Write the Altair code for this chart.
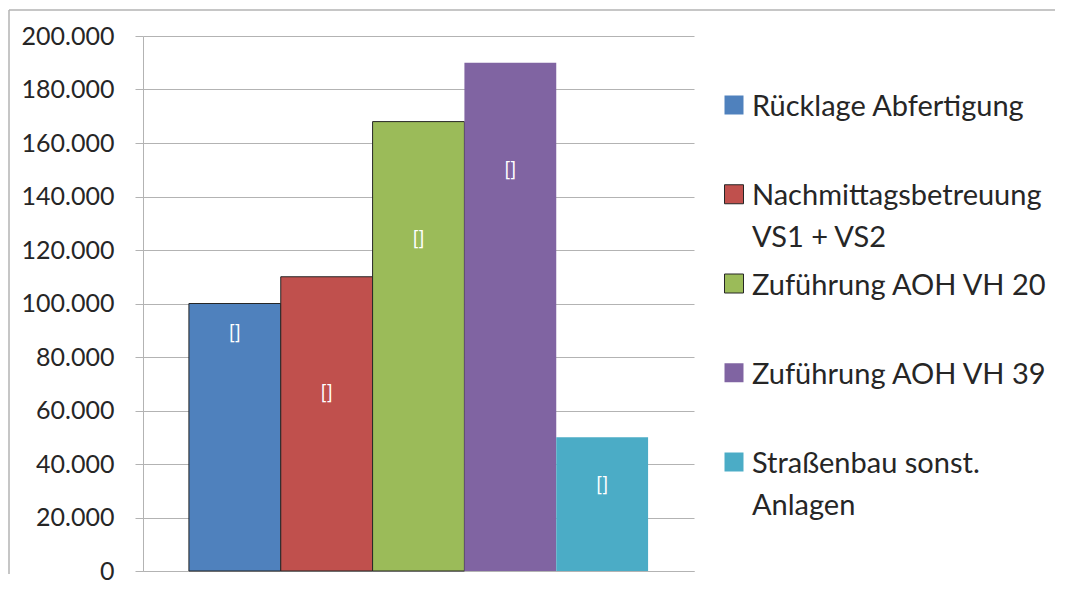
import altair as alt
import pandas as pd

categories = [
    "Rücklage Abfertigung",
    "Nachmittagsbetreuung VS1 + VS2",
    "Zuführung AOH VH 20",
    "Zuführung AOH VH 39",
    "Straßenbau sonst. Anlagen",
]
legend_lines = [
    ["Rücklage Abfertigung"],
    ["Nachmittagsbetreuung", "VS1 + VS2"],
    ["Zuführung AOH VH 20"],
    ["Zuführung AOH VH 39"],
    ["Straßenbau sonst.", "Anlagen"],
]
values = [100000, 110000, 168000, 190000, 50000]
label_at = [89000, 66500, 124000, 150000, 32000]
bar_labels = ["[]", "[]", "[]", "[]", "[]"]
y_ticks = [0, 20000, 40000, 60000, 80000, 100000, 120000, 140000, 160000, 180000, 200000]

colors = ["#4F81BD", "#C0504D", "#9BBB59", "#8064A2", "#4BACC6"]
bar_outlined = categories[:3]
legend_outlined = categories[1:3]

FONT = "Lato"
TEXT = "#262626"
GRID = "#b3b3b3"

df = pd.DataFrame({"cat": categories, "value": values, "label_at": label_at, "label": bar_labels})
color_scale = alt.Scale(domain=categories, range=colors)

x_enc = alt.X(
    "cat:N", sort=categories, title=None,
    scale=alt.Scale(paddingInner=0, paddingOuter=0.5),
    axis=alt.Axis(labels=False, ticks=False, domainColor=GRID, grid=False),
)
y_axis = alt.Axis(
    values=y_ticks, title=None,
    labelExpr="replace(format(datum.value, ','), ',', '.')",
    tickSize=8, tickColor=GRID, domainColor=GRID, gridColor=GRID,
    labelFont=FONT, labelFontSize=25, labelColor=TEXT, labelPadding=21,
)

bars = alt.Chart(df).mark_bar(stroke="#262626", strokeWidth=1).encode(
    x=x_enc,
    y=alt.Y("value:Q", scale=alt.Scale(domain=[0, 200000]), axis=y_axis),
    color=alt.Color("cat:N", scale=color_scale, legend=None),
    strokeOpacity=alt.condition(
        alt.FieldOneOfPredicate(field="cat", oneOf=bar_outlined), alt.value(1), alt.value(0)
    ),
)

labels = alt.Chart(df).mark_text(color="white", fontSize=20, font=FONT, baseline="middle").encode(
    x=alt.X("cat:N", sort=categories),
    y="label_at:Q",
    text="label:N",
)

frame_df = pd.DataFrame({"k": [0]})
frame_top = alt.Chart(frame_df).mark_rule(color=GRID, strokeWidth=1.5).encode(
    x=alt.value(-134), x2=alt.value(912), y=alt.value(-26)
)
frame_left = alt.Chart(frame_df).mark_rule(color=GRID, strokeWidth=1.5).encode(
    x=alt.value(-134), y=alt.value(-26), y2=alt.value(538)
)

main = alt.layer(frame_top, frame_left, bars, labels).properties(width=551, height=535)

leg_records = [{"cat": c, "lines": l} for c, l in zip(categories, legend_lines)]
leg_data = alt.Data(values=leg_records)
ly = alt.Y("cat:N", sort=categories, axis=None,
           scale=alt.Scale(type="point", range=[69, 426], padding=0))

swatches = alt.Chart(leg_data).mark_square(size=361, opacity=1, stroke="#262626", strokeWidth=1).encode(
    x=alt.value(10),
    y=ly,
    color=alt.Color("cat:N", scale=color_scale, legend=None),
    strokeOpacity=alt.condition(
        alt.FieldOneOfPredicate(field="cat", oneOf=legend_outlined), alt.value(1), alt.value(0)
    ),
)
leg_text = alt.Chart(leg_data).mark_text(
    align="left", baseline="top", dy=-12, fontSize=29, lineHeight=42, font=FONT, color=TEXT
).encode(
    x=alt.value(28),
    y=ly,
    text="lines:N",
)
legend = alt.layer(swatches, leg_text).properties(width=300, height=535)

chart = alt.hconcat(main, legend, spacing=30, bounds="flush").properties(
    padding={"left": 0, "top": 1, "right": 0, "bottom": 0}
).configure_view(stroke=None)

chart.save("out.html", embed_options={"renderer": "svg", "actions": False})
